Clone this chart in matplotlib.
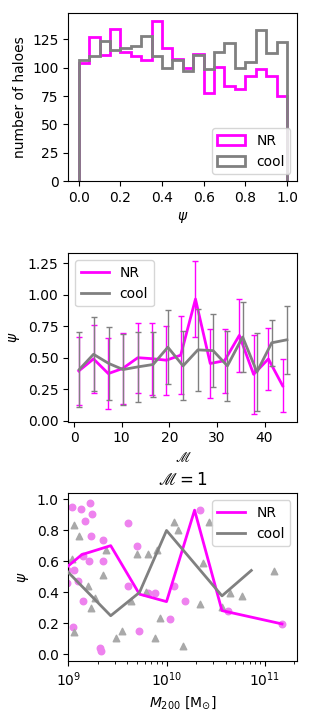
import numpy as np
import matplotlib
matplotlib.use("Agg")
import matplotlib.pyplot as plt

# ---- top panel: histogram of psi ----
psi_edges = np.linspace(0, 1, 21)
nr_counts = [104, 127, 111, 134, 114, 110, 107, 141, 117, 108,
             100, 112, 78, 101, 84, 81, 93, 99, 93, 75]
cool_counts = [107, 110, 124, 116, 117, 119, 128, 110, 100, 107,
               97, 111, 99, 114, 122, 100, 105, 133, 113, 123]

# ---- middle panel: psi vs M ----
nr_M = [1.0, 4.1, 7.2, 10.2, 13.4, 16.4, 19.4, 22.4, 25.5, 28.6, 31.6, 34.7, 37.7, 40.8, 43.8]
nr_psi = [0.395, 0.49, 0.374, 0.414, 0.50, 0.492, 0.48, 0.52, 0.965, 0.454, 0.476, 0.677, 0.368, 0.49, 0.277]
nr_err = [0.267, 0.272, 0.28, 0.282, 0.278, 0.285, 0.275, 0.307, 0.301, 0.27, 0.254, 0.289, 0.315, 0.248, 0.211]
cool_M = [1.1, 4.1, 7.3, 10.3, 13.4, 16.6, 19.7, 22.9, 26.0, 29.2, 32.2, 35.4, 38.4, 41.5, 44.7]
cool_psi = [0.406, 0.527, 0.454, 0.406, 0.427, 0.446, 0.583, 0.435, 0.562, 0.556, 0.435, 0.664, 0.387, 0.618, 0.642]
cool_err = [0.297, 0.292, 0.288, 0.279, 0.278, 0.257, 0.295, 0.273, 0.328, 0.289, 0.276, 0.278, 0.307, 0.18, 0.268]

# ---- bottom panel: psi vs M200 for M = 1 ----
nr_m200 = [1.08e9, 1.35e9, 1.66e9, 1.73e9, 1.48e9, 1.70e9, 2.28e9, 1.40e9, 1.64e9, 2.24e9,
           1.15e9, 0.98e9, 0.98e9, 1.24e9, 1.42e9, 1.11e9, 2.10e9, 2.17e9, 4.09e9, 5.06e9,
           4.09e9, 5.30e9, 6.55e9, 7.55e9, 1.20e10, 1.09e10, 1.53e10, 2.17e10, 4.23e10, 1.51e11]
nr_psi_pts = [0.950, 0.940, 0.976, 0.907, 0.862, 0.762, 0.736, 0.637, 0.603, 0.605,
              0.542, 0.546, 0.458, 0.477, 0.348, 0.179, 0.039, 0.022, 0.849, 0.702,
              0.443, 0.151, 0.395, 0.395, 0.443, 0.227, 0.346, 0.929, 0.283, 0.197]
cool_m200 = [1.15e9, 1.29e9, 1.08e9, 0.98e9, 1.57e9, 1.69e9, 1.14e9, 2.24e9, 2.40e9, 1.87e9,
             3.04e9, 3.56e9, 4.36e9, 4.98e9, 6.46e9, 6.21e9, 7.66e9, 8.09e9, 8.61e9, 1.18e10,
             1.32e10, 1.47e10, 2.35e10, 2.21e10, 2.69e10, 3.67e10, 4.47e10, 5.92e10, 1.24e11]
cool_psi_pts = [0.834, 0.762, 0.616, 0.61, 0.443, 0.302, 0.147, 0.510, 0.672, 0.363,
                0.104, 0.151, 0.348, 0.648, 0.648, 0.400, 0.104, 0.672, 0.233, 0.855,
                0.800, 0.054, 0.590, 0.326, 0.855, 0.309, 0.395, 0.378, 0.536]
nr_line_m = [0.7e9, 1.37e9, 2.7e9, 5.3e9, 1.0e10, 1.93e10, 3.67e10, 1.5e11]
nr_line_psi = [0.49, 0.644, 0.702, 0.389, 0.341, 0.931, 0.283, 0.197]
cool_line_m = [0.7e9, 2.7e9, 5.3e9, 1.0e10, 3.67e10, 7.3e10]
cool_line_psi = [0.63, 0.25, 0.40, 0.80, 0.378, 0.542]

NR_C = "magenta"
COOL_C = "gray"

fig = plt.figure(figsize=(3.15, 7.2), dpi=100)
L, W = 0.217, 0.727
ax1 = fig.add_axes([L, 0.7486, W, 0.2329])
ax2 = fig.add_axes([L, 0.4143, W, 0.2337])
ax3 = fig.add_axes([L, 0.0824, W, 0.2325])

# top
centers = 0.5 * (psi_edges[:-1] + psi_edges[1:])
ax1.hist(centers, bins=psi_edges, weights=nr_counts, histtype="step",
         color=NR_C, lw=2, label="NR")
ax1.hist(centers, bins=psi_edges, weights=cool_counts, histtype="step",
         color=COOL_C, lw=2, label="cool")
ax1.set_xticks([0.0, 0.2, 0.4, 0.6, 0.8, 1.0])
ax1.set_xlabel(r"$\psi$")
ax1.set_ylabel("number of haloes")
ax1.legend(loc="lower right")

# middle
ax2.errorbar(nr_M, nr_psi, yerr=nr_err, fmt="none", ecolor=NR_C, elinewidth=1,
             capsize=2)
ax2.plot(nr_M, nr_psi, color=NR_C, lw=2, label="NR")
ax2.errorbar(cool_M, cool_psi, yerr=cool_err, fmt="none", ecolor=COOL_C, elinewidth=1,
             capsize=2)
ax2.plot(cool_M, cool_psi, color=COOL_C, lw=2, label="cool")
ax2.set_xlabel(r"$\mathscr{M}$")
ax2.set_ylabel(r"$\psi$")
ax2.legend(loc="upper left")

# bottom
ax3.scatter(nr_m200, nr_psi_pts, color="violet", s=22, marker="o", zorder=2)
ax3.scatter(cool_m200, cool_psi_pts, color="darkgray", s=22, marker="^", zorder=2)
ax3.plot(nr_line_m, nr_line_psi, color=NR_C, lw=2, label="NR", zorder=3)
ax3.plot(cool_line_m, cool_line_psi, color=COOL_C, lw=2, label="cool", zorder=3)
ax3.set_xscale("log")
ax3.set_xlim(1e9, 2.15e11)
ax3.set_ylim(-0.04, 1.04)
ax3.set_xlabel(r"$M_{200}$ [M$_{\odot}$]")
ax3.set_ylabel(r"$\psi$")
ax3.set_title(r"$\mathscr{M} = 1$")
ax3.legend(loc="upper right")

fig.savefig("out.png", dpi=100)
